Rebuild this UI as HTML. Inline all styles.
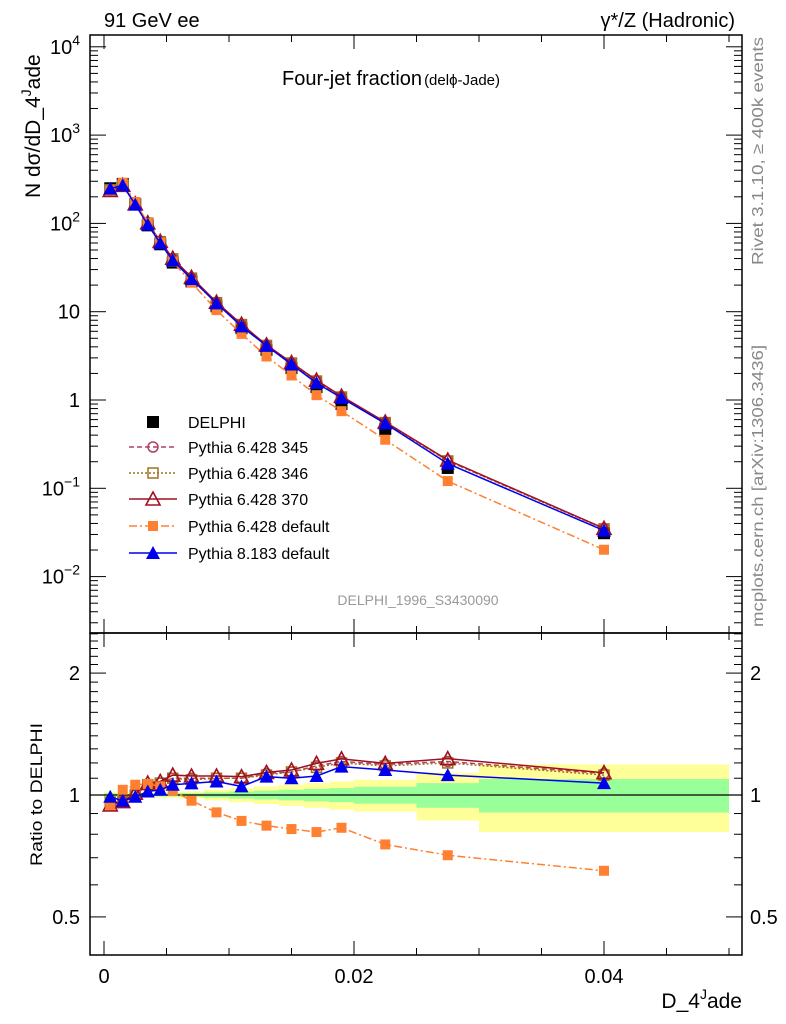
<!DOCTYPE html>
<html><head><meta charset="utf-8"><style>
body{margin:0;background:#fff;}
svg{display:block;font-family:"Liberation Sans",sans-serif;}
</style></head><body>
<svg id="c" width="786" height="1024" viewBox="0 0 786 1024"></svg>
<script>
const xs=[0.0005,0.0015,0.0025,0.0035,0.0045,0.0055,0.007,0.009,0.011,0.013,0.015,0.017,0.019,0.0225,0.0275,0.04];
const delphi=[250,280,165,95,58,36,22,11.5,6.5,3.7,2.3,1.4,0.9,0.47,0.17,0.031];
const r345=[0.95,0.965,1.0,1.06,1.07,1.1,1.1,1.1,1.1,1.13,1.14,1.18,1.21,1.19,1.21,1.13];
const r346=[0.96,0.965,1.0,1.06,1.07,1.1,1.09,1.1,1.1,1.12,1.14,1.17,1.2,1.18,1.2,1.12];
const r370=[0.945,0.963,1.01,1.07,1.08,1.12,1.114,1.114,1.11,1.137,1.153,1.197,1.228,1.197,1.23,1.135];
const r6def=[0.945,1.03,1.06,1.065,1.05,1.025,0.968,0.906,0.863,0.84,0.824,0.81,0.83,0.755,0.71,0.65];
const r8def=[0.99,0.967,0.99,1.02,1.03,1.06,1.068,1.08,1.05,1.11,1.10,1.114,1.175,1.153,1.12,1.07];
const binEdges=[0,0.001,0.002,0.003,0.004,0.005,0.006,0.008,0.010,0.012,0.014,0.016,0.018,0.020,0.025,0.030,0.050];
const totErr=[0.02,0.015,0.015,0.015,0.015,0.015,0.02,0.03,0.04,0.05,0.06,0.07,0.08,0.09,0.135,0.19];
const statErr=[0.01,0.008,0.008,0.008,0.008,0.008,0.01,0.015,0.02,0.025,0.03,0.035,0.04,0.048,0.07,0.095];
const xTicks=[0,0.02,0.04];
const yMain=[[1e4,"10"],[1e3,"10"],[100,"10"],[10,"10"],[1,"1"],[0.1,"10"],[0.01,"10"]];

const NS="http://www.w3.org/2000/svg",svg=document.getElementById('c');
function el(t,a,p){const e=document.createElementNS(NS,t);for(const k in a)e.setAttribute(k,a[k]);(p||svg).appendChild(e);return e;}
const L=90,R=742,T=35,M=633,B=955;
const X=v=>104+v*12500;
const Y=v=>400-88.3*Math.log10(v);
const YR=r=>795-405*Math.log10(r);

const gb=el('g',{});

for(let i=0;i<totErr.length;i++){
 const x1=X(binEdges[i]),x2=X(binEdges[i+1]);
 el('rect',{x:x1,y:YR(1+totErr[i]),width:x2-x1,height:YR(1-totErr[i])-YR(1+totErr[i]),fill:'#ffff99'},gb);
 el('rect',{x:x1,y:YR(1+statErr[i]),width:x2-x1,height:YR(1-statErr[i])-YR(1+statErr[i]),fill:'#99ff99'},gb);
}
el('line',{x1:L,x2:R,y1:YR(1),y2:YR(1),stroke:'#000','stroke-width':1.2});

const fr1=el('rect',{x:L,y:T,width:R-L,height:M-T,fill:'none',stroke:'#000','stroke-width':1.5});

const fr2=el('rect',{x:L,y:M,width:R-L,height:B-M,fill:'none',stroke:'#000','stroke-width':1.5});


for(let v=0;v<=0.0505;v+=0.005){
 const big=Math.abs(v/0.02-Math.round(v/0.02))<1e-6, x=X(v), len=big?14:7;
 for(const [y0,d] of [[T,1],[M,-1],[M,1],[B,-1]]) el('line',{x1:x,x2:x,y1:y0,y2:y0+d*len,stroke:'#000'});
}
xTicks.forEach(v=>{const t=el('text',{x:X(v),y:983,'text-anchor':'middle','font-size':20});t.textContent=v===0?'0':v.toFixed(2);
 });
for(let e=-3;e<=4;e++){for(let m=1;m<10;m++){const v=m*Math.pow(10,e),y=Y(v);if(y<T||y>M)continue;
 const len=m===1?16:8;el('line',{x1:L,x2:L+len,y1:y,y2:y,stroke:'#000'});el('line',{x1:R,x2:R-len,y1:y,y2:y,stroke:'#000'});}}
yMain.forEach(([v,s])=>{const y=Y(v);const t=el('text',{x:80,y:y+7,'text-anchor':'end','font-size':20});
 
 t.textContent=s;
 if(s==="10"&&v!==10){const e=Math.round(Math.log10(v));const ts=el('tspan',{dy:-9,'font-size':14},t);ts.textContent=String(e).replace('-','−');}});
[0.4,0.5,0.6,0.7,0.8,0.9,1,1.1,1.2,1.3,1.4,1.5,1.6,1.7,1.8,1.9,2,2.1,2.2,2.3,2.4,2.5].forEach(r=>{const y=YR(r);if(y<M||y>B)return;
 const big=(r===0.5||r===1||r===2),len=big?16:8;
 el('line',{x1:L,x2:L+len,y1:y,y2:y,stroke:'#000'});el('line',{x1:R,x2:R-len,y1:y,y2:y,stroke:'#000'});});
[[0.5,'0.5'],[1,'1'],[2,'2']].forEach(([r,s])=>{
 const a=el('text',{x:80,y:YR(r)+7,'text-anchor':'end','font-size':20});a.textContent=s;
 
 const b=el('text',{x:750,y:YR(r)+7,'font-size':20});b.textContent=s;
 });

function marker(type,x,y,col,g,s){s=s||6;
 if(type==='sq')el('rect',{x:x-s,y:y-s,width:2*s,height:2*s,fill:col},g);
 else if(type==='osq')el('rect',{x:x-s+1,y:y-s+1,width:2*s-2,height:2*s-2,fill:'none',stroke:col,'stroke-width':1.5},g);
 else if(type==='oc')el('circle',{cx:x,cy:y,r:s-1,fill:'none',stroke:col,'stroke-width':1.5},g);
 else if(type==='otri')el('path',{d:`M${x} ${y-s-1}L${x+s+1} ${y+s}L${x-s-1} ${y+s}Z`,fill:'none',stroke:col,'stroke-width':1.6},g);
 else if(type==='tri')el('path',{d:`M${x} ${y-s-1}L${x+s+1} ${y+s}L${x-s-1} ${y+s}Z`,fill:col},g);
 else if(type==='fsq')el('rect',{x:x-s+1,y:y-s+1,width:2*s-2,height:2*s-2,fill:col},g);}
const series=[
 {name:'pythia-6428-345',r:r345,col:'#b04060',dash:'5,3',mk:'oc',lbl:'Pythia 6.428 345'},
 {name:'pythia-6428-346',r:r346,col:'#a07020',dash:'2,2',mk:'osq',lbl:'Pythia 6.428 346'},
 {name:'pythia-6428-370',r:r370,col:'#a01020',dash:'',mk:'otri',lbl:'Pythia 6.428 370'},
 {name:'pythia-6428-default',r:r6def,col:'#ff8030',dash:'8,3,2,3',mk:'fsq',lbl:'Pythia 6.428 default'},
 {name:'pythia-8183-default',r:r8def,col:'#0000ee',dash:'',mk:'tri',lbl:'Pythia 8.183 default'}];
const gd=el('g',{});
xs.forEach((x,i)=>marker('sq',X(x),Y(delphi[i]),'#000',gd));
series.forEach(s=>{
 const g=el('g',{});
 const pts=xs.map((x,i)=>[X(x),Y(delphi[i]*s.r[i])]);
 el('polyline',{points:pts.map(p=>p.join(',')).join(' '),fill:'none',stroke:s.col,'stroke-width':1.5,'stroke-dasharray':s.dash},g);
 pts.forEach(p=>marker(s.mk,p[0],p[1],s.col,g));
 const g2=el('g',{});
 const p2=xs.map((x,i)=>[X(x),YR(s.r[i])]);
 el('polyline',{points:p2.map(p=>p.join(',')).join(' '),fill:'none',stroke:s.col,'stroke-width':1.5,'stroke-dasharray':s.dash},g2);
 p2.forEach(p=>marker(s.mk,p[0],p[1],s.col,g2));
});
const lg=el('g',{});
const ly=[422,447,473,499,526,553];
marker('sq',153,ly[0],'#000',lg);
let t0=el('text',{x:188,y:ly[0]+6,'font-size':16},lg);t0.textContent='DELPHI';
series.forEach((s,i)=>{const y=ly[i+1];
 el('line',{x1:129,x2:177,y1:y,y2:y,stroke:s.col,'stroke-width':1.5,'stroke-dasharray':s.dash},lg);
 marker(s.mk,153,y,s.col,lg);
 const t=el('text',{x:188,y:y+6,'font-size':16},lg);t.textContent=s.lbl;});
function txt(name,a,s){const t=el('text',a);t.textContent=s;return t;}
txt('plot-title-left',{x:104,y:27,'font-size':20},'91 GeV ee');
txt('plot-title-right',{x:735,y:27,'font-size':20,'text-anchor':'end'},'γ*/Z (Hadronic)');
const ft=txt('figure-title',{x:282,y:85,'font-size':20},'Four-jet fraction');
const fs=el('tspan',{'font-size':15,dx:2},ft);fs.textContent='(delϕ-Jade)';
txt('analysis-id',{x:418,y:605,'font-size':14,fill:'#999','text-anchor':'middle'},'DELPHI_1996_S3430090');
txt('rivet-label',{x:0,y:0,'font-size':16,fill:'#888',textLength:228,lengthAdjust:'spacingAndGlyphs',transform:'translate(763,265) rotate(-90)'},'Rivet 3.1.10, ≥ 400k events');
txt('mcplots-label',{x:0,y:0,'font-size':16,fill:'#888',textLength:282,lengthAdjust:'spacingAndGlyphs',transform:'translate(763,627) rotate(-90)'},'mcplots.cern.ch [arXiv:1306.3436]');
const yl=txt('y-axis-title',{x:0,y:0,'font-size':21,transform:'translate(40,198) rotate(-90)'},'N dσ/dD_4');
const ys=el('tspan',{dy:-9,'font-size':14},yl);ys.textContent='J';const ys2=el('tspan',{dy:9},yl);ys2.textContent='ade';
txt('ratio-y-axis-title',{x:0,y:0,'font-size':17,textLength:143,lengthAdjust:'spacingAndGlyphs',transform:'translate(42,866) rotate(-90)'},'Ratio to DELPHI');
const xl=txt('x-axis-title',{x:742,y:1008,'font-size':21,'text-anchor':'end'},'D_4');
const xs1=el('tspan',{dy:-9,'font-size':14},xl);xs1.textContent='J';const xs2=el('tspan',{dy:9},xl);xs2.textContent='ade';
</script>
</body></html>
